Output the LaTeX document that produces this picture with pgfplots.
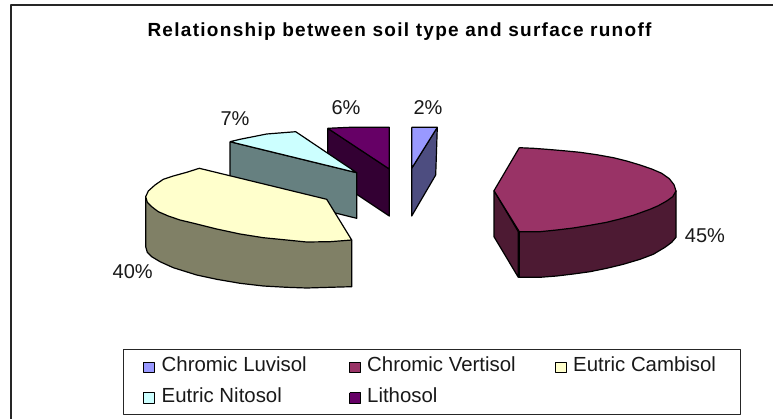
\documentclass[border=0pt]{standalone}
\usepackage{pgfplots}
\pgfplotsset{compat=1.18}
\usepackage{fontspec}
\setmainfont{Liberation Sans}
\definecolor{luvT}{HTML}{9999FF}\definecolor{luvS}{HTML}{4D4D80}
\definecolor{verT}{HTML}{993366}\definecolor{verS}{HTML}{4D1A33}
\definecolor{camT}{HTML}{FFFFCC}\definecolor{camS}{HTML}{808066}
\definecolor{nitT}{HTML}{CCFFFF}\definecolor{nitS}{HTML}{668080}
\definecolor{litT}{HTML}{660066}\definecolor{litS}{HTML}{330033}
\tikzset{
  lab/.style={font=\fontsize{20}{24}\selectfont, anchor=base, inner sep=0pt, text=black!90},
  leg/.style={font=\fontsize{20.4}{24}\selectfont, anchor=base west, inner sep=0pt, text=black!90},
}
\begin{document}
\begin{tikzpicture}
\begin{axis}[
  scale only axis, width=773pt, height=419pt,
  xmin=0, xmax=773, ymin=0, ymax=419, y dir=reverse,
  hide axis, clip=true,
  every axis plot/.append style={mark=none, line join=round, line width=1.2pt, draw=black},
]
% page background
\addplot[fill=white, draw=none] coordinates {(0,0) (773,0) (773,419) (0,419) (0,0)};
% frame lines
\addplot[line width=2pt, draw=black!85] coordinates {(773,5.3) (11,5.3) (11,419)};
% Lithosol
\addplot[fill=litS] coordinates {(327.7,128.3) (389.3,169) (389.3,216) (327.7,175) (327.7,128.3)};
\addplot[fill=litT] coordinates {(327.7,128.3) (350,127.3) (389.3,127.3) (389.3,169) (327.7,128.3)};
% Eutric Nitosol
\addplot[fill=nitS] coordinates {(230,141.7) (356.7,172.7) (356.7,218.3) (230,187) (230,141.7)};
\addplot[fill=nitT] coordinates {(230,141.7) (240,139.3) (266.7,134) (295.7,131.7) (356.7,172.7) (230,141.7)};
% Eutric Cambisol
\addplot[fill=camS] coordinates {(145.7,196.7) (145.7,246.7) (147.3,252.3) (151.7,256.7) (160,261.7) (173.3,267.7) (196.7,275) (216.7,279.3) (240,283.3) (263.3,286) (286.7,287.3) (306.7,288) (330,287.3) (351.7,286.7) (351.7,240) (145.7,196.7)};
\addplot[fill=camT] coordinates {(199.3,168.3) (326.7,199.3) (351.7,240) (330,241.7) (306.7,242) (286.7,240) (263.3,237.7) (240,234) (216.7,229) (196.7,224) (180,220) (168.3,216) (158.3,211.7) (151.7,206.7) (147.3,202.3) (145.7,196.7) (148.3,191) (155,185) (163.3,179.3) (173.3,176) (186.7,172.3) (199.3,168.3)};
% Chromic Luvisol
\addplot[fill=luvS] coordinates {(437.3,127.3) (435.7,175) (411.7,216) (411.7,168.3) (437.3,127.3)};
\addplot[fill=luvT] coordinates {(411.7,127.3) (437.3,127.3) (411.7,168.3) (411.7,127.3)};
% Chromic Vertisol
\addplot[fill=verS] coordinates {(494,190.7) (494,236.7) (518.3,277.3) (518.3,231.7) (494,190.7)};
\addplot[fill=verS] coordinates {(519.3,231.7) (519.3,277.3) (540,277.3) (556.7,276) (573.3,274) (590,271.7) (606.7,268.3) (623.3,264.3) (640,259.3) (653.3,254.3) (665,247.3) (671.7,242.3) (676,237.3) (676,191) (519.3,231.7)};
\addplot[fill=verT] coordinates {(519.3,147.7) (533.3,148.3) (546.7,149.3) (563.3,150.7) (580,152.3) (596.7,154.7) (613.3,157.7) (626.7,161) (640,165) (651.7,169) (661.7,173.3) (669.3,178.7) (674,184.7) (676,191) (672.7,196.7) (666.7,201) (658.3,205.7) (650,209.3) (633.3,215.3) (620,219) (606.7,222.3) (590,225.3) (573.3,228) (556.7,230) (540,231.7) (519.3,231.7) (494,190.7) (519.3,147.7)};
% Legend
\addplot[fill=white, draw=black!85, line width=0.9pt] coordinates {(123.3,349.5) (740,349.5) (740,414) (123.3,414) (123.3,349.5)};
\addplot[fill=luvT, line width=0.9pt] coordinates {(143,362) (154,362) (154,372.5) (143,372.5) (143,362)};
\addplot[fill=verT, line width=0.9pt] coordinates {(349.5,362) (360.5,362) (360.5,372.5) (349.5,372.5) (349.5,362)};
\addplot[fill=camT, line width=0.9pt] coordinates {(555.5,362) (566.5,362) (566.5,372.5) (555.5,372.5) (555.5,362)};
\addplot[fill=nitT, line width=0.9pt] coordinates {(143,392.5) (154,392.5) (154,403) (143,403) (143,392.5)};
\addplot[fill=litT, line width=0.9pt] coordinates {(349.5,392.5) (360.5,392.5) (360.5,403) (349.5,403) (349.5,392.5)};
\node[leg] at (axis cs:161.5,371.7) {Chromic Luvisol};
\node[leg] at (axis cs:367,371.7) {Chromic Vertisol};
\node[leg] at (axis cs:573,371.7) {Eutric Cambisol};
\node[leg] at (axis cs:161.5,402.3) {Eutric Nitosol};
\node[leg] at (axis cs:367,402.3) {Lithosol};
% Title
\node[font=\bfseries\fontsize{19}{22}\selectfont\addfontfeatures{LetterSpace=6.8}, anchor=base, inner sep=0pt] at (axis cs:399.5,36.7) {Relationship between soil type and surface runoff};
% Percent labels
\node[lab] at (axis cs:705,243) {45\%};
\node[lab] at (axis cs:132.7,279) {40\%};
\node[lab] at (axis cs:235,125.7) {7\%};
\node[lab] at (axis cs:346,115) {6\%};
\node[lab] at (axis cs:428,115) {2\%};
\end{axis}
\end{tikzpicture}
\end{document}
